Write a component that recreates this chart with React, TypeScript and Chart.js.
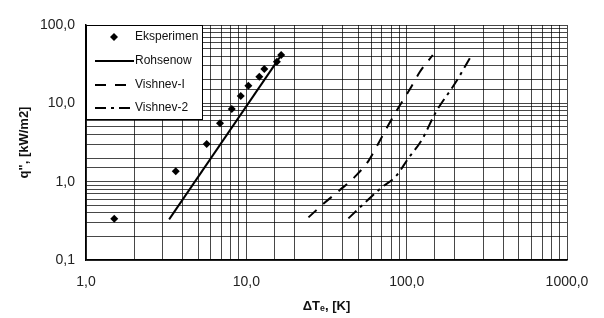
import React, { useEffect, useRef } from "react";
import { Chart, registerables } from "chart.js";

Chart.register(...registerables);

// ---- data ----
const expX = [1.5, 3.63, 5.66, 6.85, 8.11, 9.23, 10.3, 12.05, 12.95, 15.5, 16.5];
const expY = [0.336, 1.36, 3.02, 5.56, 8.46, 12.4, 16.8, 21.9, 27.4, 34.0, 41.4];

const rohX = [3.3, 16.8];
const rohY = [0.33, 43.5];

const v1X = [24.4, 30.5, 38.0, 47.6, 57.7, 66.6, 76.9, 90.9, 104, 121, 145.5];
const v1Y = [0.35, 0.53, 0.77, 1.16, 1.83, 3.08, 5.28, 9.5, 14.8, 25.3, 41.4];

const v2X = [43.3, 55.0, 69.9, 85.9, 102.5, 124.2, 152.5, 200.4, 254.7];
const v2Y = [0.34, 0.54, 0.845, 1.18, 1.99, 3.4, 7.81, 18.0, 41.4];

const seriesNames = ["Eksperimen", "Rohsenow", "Vishnev-I", "Vishnev-2"];

const xTickValues = [1, 10, 100, 1000];
const xTickLabels = ["1,0", "10,0", "100,0", "1000,0"];
const yTickValues = [0.1, 1, 10, 100];
const yTickLabels = ["0,1", "1,0", "10,0", "100,0"];

const xTitle = "\u0394T\u2091, [K]";
const yTitle = 'q", [kW/m2]';

const zip = (xs: number[], ys: number[]) => xs.map((x, i) => ({ x, y: ys[i] }));

const labelFor = (vals: number[], labels: string[]) => (value: number | string) => {
  const v = Number(value);
  for (let i = 0; i < vals.length; i++) {
    if (Math.abs(v - vals[i]) / vals[i] < 1e-6) return labels[i];
  }
  return "";
};

const FONT = "'Liberation Sans', Arial, sans-serif";

const legendPlugin = {
  id: "boxLegend",
  afterDatasetsDraw(chart: any) {
    const { ctx, chartArea } = chart;
    const left = chartArea.left;
    const top = chartArea.top;
    const w = 117;
    const h = 95;
    ctx.save();
    ctx.fillStyle = "#ffffff";
    ctx.fillRect(left, top, w, h);
    ctx.strokeStyle = "#000";
    ctx.lineWidth = 1;
    ctx.strokeRect(left + 0.5, top + 0.5, w - 1, h - 1);
    const rows = [12, 36, 60, 83];
    chart.data.datasets.forEach((ds: any, i: number) => {
      const y = top + rows[i];
      if (ds.showLine === false) {
        ctx.beginPath();
        const cx = left + 28;
        const r = 4;
        ctx.moveTo(cx - r, y);
        ctx.lineTo(cx, y - r);
        ctx.lineTo(cx + r, y);
        ctx.lineTo(cx, y + r);
        ctx.closePath();
        ctx.fillStyle = "#000";
        ctx.fill();
      } else {
        ctx.beginPath();
        ctx.setLineDash(ds.borderDash || []);
        ctx.lineWidth = ds.borderWidth;
        ctx.strokeStyle = "#000";
        ctx.moveTo(left + 9, y);
        ctx.lineTo(left + 48, y);
        ctx.stroke();
        ctx.setLineDash([]);
      }
      ctx.fillStyle = "#111";
      ctx.font = `12px ${FONT}`;
      ctx.textBaseline = "middle";
      ctx.textAlign = "left";
      ctx.fillText(ds.label, left + 49, y);
    });
    ctx.restore();
  },
};

export default function App() {
  const ref = useRef<HTMLCanvasElement | null>(null);

  useEffect(() => {
    if (!ref.current) return;
    Chart.defaults.font.family = FONT;
    const chart = new Chart(ref.current, {
      type: "line",
      data: {
        datasets: [
          {
            label: seriesNames[0],
            data: zip(expX, expY),
            showLine: false,
            pointStyle: "rectRot",
            pointRadius: 4,
            pointBackgroundColor: "#000",
            pointBorderColor: "#000",
            pointBorderWidth: 0,
            borderColor: "#000",
          },
          {
            label: seriesNames[1],
            data: zip(rohX, rohY),
            borderColor: "#000",
            borderWidth: 2,
            pointRadius: 0,
          },
          {
            label: seriesNames[2],
            data: zip(v1X, v1Y),
            borderColor: "#000",
            borderWidth: 2,
            borderDash: [11, 9],
            pointRadius: 0,
            cubicInterpolationMode: "monotone",
          },
          {
            label: seriesNames[3],
            data: zip(v2X, v2Y),
            borderColor: "#000",
            borderWidth: 2,
            borderDash: [11, 5, 3, 5],
            pointRadius: 0,
            cubicInterpolationMode: "monotone",
          },
        ],
      } as any,
      options: {
        animation: false,
        responsive: false,
        maintainAspectRatio: false,
        layout: { padding: { left: 0, top: 25, right: 37, bottom: 0 } },
        plugins: {
          legend: { display: false },
          tooltip: { enabled: false },
        },
        scales: {
          x: {
            type: "logarithmic",
            min: 1,
            max: 1000,
            afterFit: (s: any) => {
              s.height = 58;
            },
            grid: { color: "rgba(0,0,0,0.72)", lineWidth: 1, drawTicks: false },
            border: { color: "#000", width: 1.5 },
            ticks: {
              autoSkip: false,
              maxRotation: 0,
              padding: 14,
              color: "#222",
              font: { size: 14 },
              callback: labelFor(xTickValues, xTickLabels) as any,
            },
            title: {
              display: true,
              text: xTitle,
              color: "#111",
              font: { size: 13, weight: "bold" },
              padding: { top: 0, bottom: 4 },
            },
          },
          y: {
            type: "logarithmic",
            min: 0.1,
            max: 100,
            afterFit: (s: any) => {
              s.width = 86;
            },
            grid: { color: "rgba(0,0,0,0.72)", lineWidth: 1, drawTicks: false },
            border: { color: "#000", width: 1.5 },
            ticks: {
              autoSkip: false,
              padding: 11,
              color: "#222",
              font: { size: 14 },
              callback: labelFor(yTickValues, yTickLabels) as any,
            },
            title: {
              display: true,
              text: yTitle,
              color: "#111",
              font: { size: 13, weight: "bold" },
              padding: { top: 17, bottom: 0 },
            },
          },
        },
      } as any,
      plugins: [legendPlugin],
    });
    return () => chart.destroy();
  }, []);

  return (
    <div style={{ position: "absolute", left: 0, top: 0, width: 604, height: 318, background: "#fff" }}>
      <canvas ref={ref} width={604} height={318} />
    </div>
  );
}
